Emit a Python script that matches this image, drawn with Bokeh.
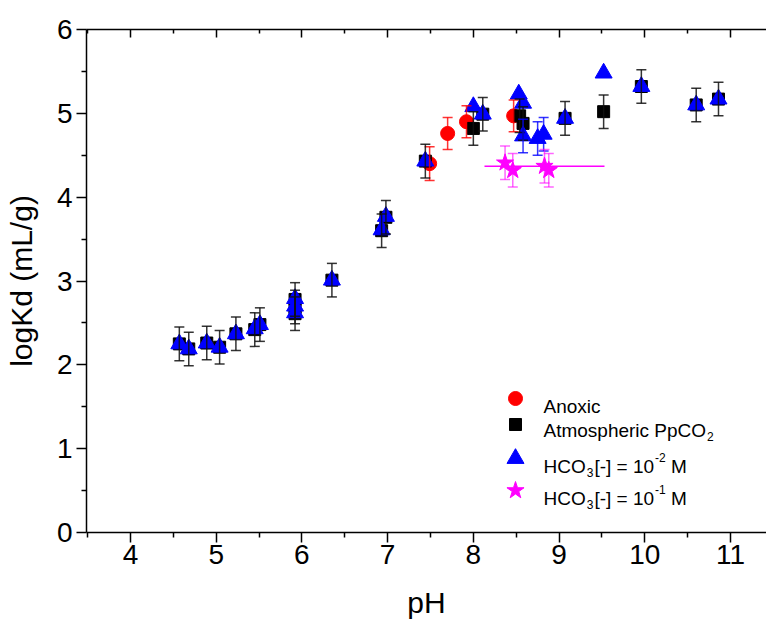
from bokeh.plotting import figure
from bokeh.models import (ColumnDataSource, Whisker, TeeHead, LinearAxis, Range1d,
                          FixedTicker, Label, CustomJSTickFormatter)
from bokeh.embed import file_html
from bokeh.resources import INLINE

# ---------------- data ----------------
anoxic_ph = [7.49, 7.70, 7.92, 8.47]
anoxic_logkd = [4.40, 4.76, 4.90, 4.97]
anoxic_err = [0.20, 0.19, 0.19, 0.19]

atm_ph = [4.57, 4.68, 4.89, 5.04, 5.23, 5.45, 5.51, 5.92, 5.92, 5.92, 6.35, 6.93, 6.98,
          7.44, 8.00, 8.11, 8.54, 8.58, 9.07, 9.52, 9.96, 10.60, 10.86]
atm_logkd = [2.25, 2.19, 2.26, 2.21, 2.37, 2.42, 2.48, 2.78, 2.69, 2.61, 3.01, 3.60, 3.76,
             4.43, 4.82, 4.99, 4.97, 4.88, 4.94, 5.02, 5.32, 5.10, 5.17]
atm_err = [0.2, 0.2, 0.2, 0.2, 0.2, 0.2, 0.2, 0.2, 0.2, 0.2, 0.2, 0.2, 0.2,
           0.2, 0.2, 0.2, 0.2, 0.2, 0.2, 0.2, 0.2, 0.2, 0.2]

hco3_2_ph = [4.57, 4.68, 4.89, 5.04, 5.23, 5.45, 5.51, 5.92, 5.92, 5.92, 6.35, 6.93, 6.98,
             7.44, 8.00, 8.11, 8.53, 8.58, 8.58, 8.75, 8.82, 9.07, 9.52, 9.96, 10.60, 10.86]
hco3_2_logkd = [2.25, 2.19, 2.26, 2.21, 2.37, 2.43, 2.48, 2.79, 2.70, 2.62, 3.01, 3.61, 3.77,
                4.43, 5.08, 4.99, 5.23, 5.12, 4.73, 4.70, 4.75, 4.94, 5.48, 5.32, 5.10, 5.17]
hco3_2_err = [0, 0, 0, 0, 0, 0, 0, 0, 0, 0, 0, 0, 0,
              0, 0, 0, 0, 0, 0.2, 0.2, 0.2, 0, 0, 0, 0, 0]

hco3_1_ph = [8.37, 8.46, 8.83, 8.88]
hco3_1_logkd = [4.41, 4.32, 4.37, 4.32]
hco3_1_err = [0.2, 0.2, 0.2, 0.2]
hco3_1_xerr = [0, 0, 0.70, 0]

legend_labels = ["Anoxic", "Atmospheric PpCO", "HCO", "HCO"]
x_title = "pH"
y_title = "logKd (mL/g)"

x_ticks = [4, 5, 6, 7, 8, 9, 10, 11]
x_minor = [3.5, 4.5, 5.5, 6.5, 7.5, 8.5, 9.5, 10.5, 11.5]
y_ticks = [0, 1, 2, 3, 4, 5, 6]
y_minor = [0.5, 1.5, 2.5, 3.5, 4.5, 5.5]

# ---------------- figure ----------------
FONT = "Liberation Sans"
W, H = 766, 626
MB_L, MB_R, MB_T, MB_B = 86, 0, 29, 94
X0, X1 = 3.487, 11.42
Y0, Y1 = 0, 6

p = figure(width=W, height=H, x_range=Range1d(X0, X1), y_range=Range1d(Y0, Y1),
           output_backend="svg", toolbar_location=None,
           min_border_left=MB_L, min_border_right=MB_R,
           min_border_top=MB_T, min_border_bottom=MB_B)
p.grid.visible = False
p.outline_line_color = None
p.background_fill_color = "white"
p.border_fill_color = "white"

for ax in (p.xaxis[0], p.yaxis[0]):
    ax.axis_line_width = 1.5
    ax.major_tick_line_width = 1.5
    ax.minor_tick_line_width = 1.5
    ax.major_tick_out = 10
    ax.major_tick_in = 0
    ax.minor_tick_out = 5
    ax.minor_tick_in = 0
    ax.major_label_text_font = FONT
    ax.major_label_text_font_size = "28px"
    ax.major_label_text_color = "black"
    ax.axis_label_text_font = FONT
    ax.axis_label_text_font_size = "30px"
    ax.axis_label_text_font_style = "normal"
    ax.axis_label_text_color = "black"

p.xaxis[0].ticker = FixedTicker(ticks=x_ticks, minor_ticks=x_minor)
p.yaxis[0].ticker = FixedTicker(ticks=y_ticks, minor_ticks=y_minor)
p.xaxis[0].axis_label = x_title
p.yaxis[0].axis_label = y_title
p.xaxis[0].major_label_standoff = 2
p.yaxis[0].major_label_standoff = 4
p.xaxis[0].axis_label_standoff = 19
p.yaxis[0].axis_label_standoff = 16

top = LinearAxis(ticker=FixedTicker(ticks=x_ticks, minor_ticks=x_minor),
                 formatter=CustomJSTickFormatter(code="return ''"))
top.axis_line_width = 1.5
top.major_tick_line_width = 1.5
top.minor_tick_line_width = 1.5
top.major_tick_in = 8
top.major_tick_out = 0
top.minor_tick_in = 4
top.minor_tick_out = 0
top.major_label_text_font_size = "1px"
p.add_layout(top, "above")


def errbars(xs, ys, es, color, alpha):
    xx = [x for x, e in zip(xs, es) if e > 0]
    yy = [y for y, e in zip(ys, es) if e > 0]
    ee = [e for e in es if e > 0]
    src = ColumnDataSource(dict(x=xx, up=[y + e for y, e in zip(yy, ee)],
                                lo=[y - e for y, e in zip(yy, ee)]))
    w = Whisker(source=src, base="x", upper="up", lower="lo", dimension="height",
                line_color=color, line_width=1.5, line_alpha=alpha,
                upper_head=TeeHead(size=10, line_color=color, line_width=1.5, line_alpha=alpha),
                lower_head=TeeHead(size=10, line_color=color, line_width=1.5, line_alpha=alpha),
                level="glyph")
    p.add_layout(w)


# Anoxic
errbars(anoxic_ph, anoxic_logkd, anoxic_err, "#ff0000", 0.8)
p.scatter(anoxic_ph, anoxic_logkd, marker="circle", size=14, fill_color="#ff0000",
          line_color="#ff0000")
# Atmospheric
errbars(atm_ph, atm_logkd, atm_err, "#111111", 0.85)
p.scatter(atm_ph, atm_logkd, marker="square", size=12, fill_color="#000000",
          line_color="#000000")
# HCO3 1e-2
errbars(hco3_2_ph, hco3_2_logkd, hco3_2_err, "#0000ff", 0.8)
p.scatter(hco3_2_ph, hco3_2_logkd, marker="triangle", size=17, fill_color="#0000ff",
          line_color="#0000ff")
# HCO3 1e-1
errbars(hco3_1_ph, hco3_1_logkd, hco3_1_err, "#ff00ff", 0.6)
xs = [x for x, e in zip(hco3_1_ph, hco3_1_xerr) if e > 0]
ys = [y for y, e in zip(hco3_1_logkd, hco3_1_xerr) if e > 0]
es = [e for e in hco3_1_xerr if e > 0]
p.add_layout(Whisker(source=ColumnDataSource(dict(y=ys, lo=[x - e for x, e in zip(xs, es)],
                                                  up=[x + e for x, e in zip(xs, es)])),
                     base="y", upper="up", lower="lo", dimension="width",
                     line_color="#ff00ff", line_width=1.5, upper_head=None, lower_head=None,
                     level="glyph"))
p.scatter(hco3_1_ph, hco3_1_logkd, marker="star", size=18, fill_color="#ff00ff",
          line_color="#ff00ff")

# ---------------- pixel helpers ----------------
frame_w = W - MB_L - MB_R
frame_h = H - MB_T - MB_B
px_x = frame_w / (X1 - X0)
px_y = frame_h / (Y1 - Y0)
IMG_LEFT = MB_L
IMG_BOTTOM = MB_T + frame_h


def dx(xi):
    return X0 + (xi - IMG_LEFT) / px_x


def dy(yi):
    return (IMG_BOTTOM - yi) / px_y


# ---------------- legend (manual, for sub/superscripts) ----------------
ARIAL = {"A": 667, "n": 556, "o": 556, "x": 500, "i": 222, "c": 500, "t": 278, "m": 833,
         "s": 500, "p": 556, "h": 556, "e": 556, "r": 333, " ": 278, "P": 667, "C": 722,
         "O": 778, "H": 722, "[": 278, "-": 333, "]": 278, "=": 584, "1": 556, "0": 556,
         "M": 833, "2": 556, "3": 556}


def tw(s, size):
    return sum(ARIAL.get(c, 556) for c in s) * size / 1000.0


LEG_MX = 515
LEG_TX = 543
LEG_FS = 19
SUB_FS = 12
marker_rows = [398, 424, 458, 490]
base_rows = [406, 430, 466, 498]
leg_markers = ["circle", "square", "triangle", "star"]
leg_colors = ["#ff0000", "#000000", "#0000ff", "#ff00ff"]
leg_sizes = [14, 12, 17, 18]

p.scatter([dx(LEG_MX)] * 4, [dy(y) for y in marker_rows], marker=leg_markers,
          size=leg_sizes, fill_color=leg_colors, line_color=leg_colors)


def put(text, xi, yi, fs):
    p.add_layout(Label(x=dx(xi), y=dy(yi), text=text, text_font=FONT,
                       text_font_size=f"{fs}px", text_color="black",
                       text_baseline="alphabetic", text_align="left"))


put(legend_labels[0], LEG_TX, base_rows[0], LEG_FS)
put(legend_labels[1], LEG_TX, base_rows[1], LEG_FS)
put("2", LEG_TX + tw(legend_labels[1], LEG_FS) + 1, base_rows[1] + 6, SUB_FS)
for row, sup in ((2, "-2"), (3, "-1")):
    xb = LEG_TX
    put(legend_labels[row], xb, base_rows[row], LEG_FS)
    xb += tw("HCO", LEG_FS) + 1
    put("3", xb, base_rows[row] + 6, SUB_FS)
    xb += tw("3", SUB_FS) + 1
    put("[-] = 10", xb, base_rows[row], LEG_FS)
    xb += tw("[-] = 10", LEG_FS) + 1
    put(sup, xb, base_rows[row] - 9, SUB_FS)
    xb += tw(sup, SUB_FS) + tw(" ", LEG_FS)
    put("M", xb, base_rows[row], LEG_FS)

open("out.html", "w").write(file_html(p, INLINE))
